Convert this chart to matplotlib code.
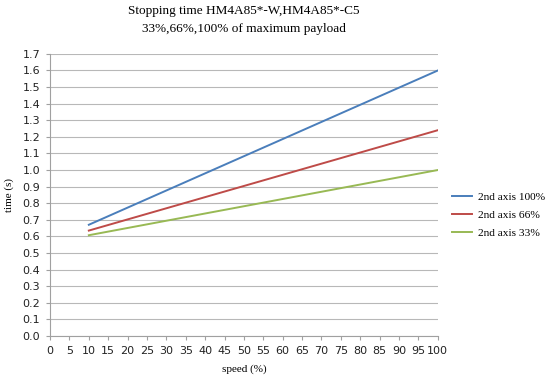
import numpy as np
from matplotlib import pyplot as plt

# données
vitesse = [10, 100]
temps_100 = [0.67, 1.60]
temps_66 = [0.635, 1.24]
temps_33 = [0.607, 1.00]

series = ['2nd axis 100%', '2nd axis 66%', '2nd axis 33%']
couleurs = ['#4A7EBB', '#BE4B48', '#98B954']

fig = plt.figure(figsize=(5.5, 3.77), dpi=100)
ax = fig.add_axes([0.091, 0.109, 0.705, 0.748])

for y, nom, c in zip([temps_100, temps_66, temps_33], series, couleurs):
    ax.plot(vitesse, y, color=c, lw=1.4, label=nom)

ax.set_xlim(0, 100)
ax.set_ylim(0, 1.7)
ax.set_xticks(np.arange(0, 101, 5))
ax.set_yticks(np.arange(0, 1.71, 0.1))
ax.set_yticklabels(['%.1f' % v for v in np.arange(0, 1.71, 0.1)])
ax.grid(axis='y', color='#b8b8b8', lw=0.8)
ax.set_axisbelow(True)
for s in ['top', 'right']:
    ax.spines[s].set_visible(False)
for s in ['left', 'bottom']:
    ax.spines[s].set_color('#a0a0a0')
ax.tick_params(colors='#a0a0a0', labelcolor='#222222', labelsize=8, length=3, pad=4)

serif = 'Liberation Serif'
ax.set_xlabel('speed (%)', family=serif, fontsize=8, labelpad=6)
ax.set_ylabel('time (s)', family=serif, fontsize=8, labelpad=6)
ax.set_title('Stopping time HM4A85*-W,HM4A85*-C5\n33%,66%,100% of maximum payload',
             family=serif, fontsize=9.5, pad=16, linespacing=1.6)

ax.legend(loc='center left', bbox_to_anchor=(1.015, 0.43), frameon=False,
          prop={'family': serif, 'size': 8.2}, handlelength=1.8, handletextpad=0.5,
          labelspacing=0.7, borderpad=0.2)

fig.savefig('out.png', dpi=100)
